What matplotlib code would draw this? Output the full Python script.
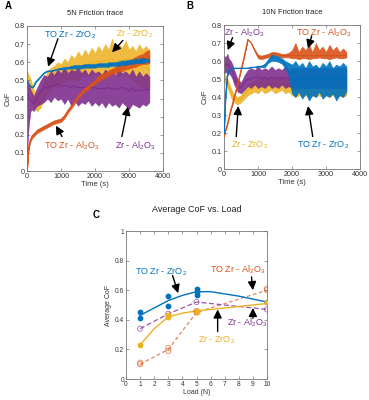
import numpy as np
import matplotlib
matplotlib.use("Agg")
import matplotlib.pyplot as plt

plt.rcParams['font.family'] = ['Liberation Sans', 'DejaVu Sans']
plt.rcParams['mathtext.fontset'] = 'custom'
plt.rcParams['mathtext.rm'] = 'Liberation Sans'
plt.rcParams['mathtext.it'] = 'Liberation Sans:italic'
plt.rcParams['mathtext.bf'] = 'Liberation Sans:bold'

BLUE = '#0072BD'
ORANGE = '#D95319'
YELLOW = '#EDB120'
PURPLE = '#7E2F8E'

# Shared time grid (s) for the friction traces
t_grid = [0, 50, 100, 150, 200, 250, 300, 400, 500, 600, 700, 800, 900, 1000, 1100, 1200, 1300,
          1400, 1500, 1600, 1700, 1800, 1900, 2000, 2100, 2200, 2300, 2400, 2500, 2600, 2700,
          2800, 2900, 3000, 3100, 3200, 3300, 3400, 3500, 3600]

# ---------------- Panel A: 5N friction trace (centre, low and high envelope) ----------------
a_blue_mid = [0.50, 0.48, 0.47, 0.46, 0.47, 0.49, 0.50, 0.52, 0.54, 0.55, 0.55, 0.555, 0.56, 0.565, 0.565, 0.57, 0.57,
              0.575, 0.575, 0.575, 0.58, 0.58, 0.58, 0.58, 0.585, 0.585, 0.585, 0.585, 0.59, 0.59, 0.59,
              0.595, 0.595, 0.60, 0.60, 0.605, 0.605, 0.61, 0.61, 0.61]
a_blue_lo = [0.50, 0.48, 0.47, 0.46, 0.47, 0.49, 0.50, 0.52, 0.54, 0.55, 0.55, 0.555, 0.56, 0.56, 0.56, 0.565, 0.565,
             0.565, 0.565, 0.565, 0.57, 0.57, 0.57, 0.57, 0.575, 0.575, 0.575, 0.575, 0.58, 0.58, 0.58,
             0.585, 0.585, 0.59, 0.59, 0.595, 0.595, 0.595, 0.60, 0.60]
a_blue_hi = [0.50, 0.48, 0.47, 0.46, 0.47, 0.49, 0.50, 0.52, 0.545, 0.555, 0.555, 0.56, 0.565, 0.57, 0.575, 0.575, 0.58,
             0.585, 0.585, 0.585, 0.59, 0.59, 0.59, 0.59, 0.595, 0.595, 0.595, 0.60, 0.60, 0.60, 0.605,
             0.61, 0.61, 0.615, 0.615, 0.62, 0.62, 0.625, 0.62, 0.62]
a_yel_mid = [0.50, 0.49, 0.47, 0.44, 0.40, 0.38, 0.37, 0.39, 0.45, 0.49, 0.51, 0.52, 0.53, 0.53, 0.55, 0.55, 0.57,
             0.56, 0.58, 0.57, 0.59, 0.58, 0.60, 0.59, 0.61, 0.60, 0.61, 0.61, 0.62, 0.60, 0.61,
             0.61, 0.62, 0.60, 0.60, 0.58, 0.59, 0.57, 0.57, 0.56]
a_yel_lo = [0.45, 0.46, 0.44, 0.41, 0.36, 0.34, 0.33, 0.35, 0.40, 0.43, 0.45, 0.47, 0.46, 0.48, 0.49, 0.50, 0.50,
            0.51, 0.50, 0.52, 0.52, 0.53, 0.52, 0.54, 0.53, 0.54, 0.52, 0.55, 0.53, 0.54, 0.52,
            0.55, 0.53, 0.52, 0.50, 0.49, 0.47, 0.46, 0.45, 0.47]
a_yel_hi = [0.55, 0.53, 0.51, 0.48, 0.45, 0.42, 0.40, 0.44, 0.50, 0.55, 0.57, 0.58, 0.60, 0.59, 0.62, 0.60, 0.64,
            0.62, 0.66, 0.63, 0.67, 0.64, 0.68, 0.65, 0.69, 0.66, 0.70, 0.67, 0.73, 0.66, 0.70,
            0.68, 0.72, 0.67, 0.69, 0.66, 0.70, 0.67, 0.69, 0.66]
a_pur_mid = [0.46, 0.40, 0.39, 0.38, 0.37, 0.39, 0.41, 0.44, 0.46, 0.46, 0.47, 0.47, 0.48, 0.47, 0.47, 0.47, 0.46,
             0.47, 0.46, 0.46, 0.46, 0.46, 0.46, 0.46, 0.455, 0.455, 0.455, 0.46, 0.455, 0.45, 0.455,
             0.46, 0.455, 0.44, 0.46, 0.44, 0.45, 0.445, 0.45, 0.45]
a_pur_lo = [0.10, 0.25, 0.33, 0.34, 0.33, 0.35, 0.36, 0.37, 0.38, 0.40, 0.38, 0.41, 0.39, 0.40, 0.37, 0.40, 0.36,
            0.39, 0.36, 0.38, 0.37, 0.39, 0.36, 0.38, 0.36, 0.38, 0.35, 0.38, 0.36, 0.37, 0.35,
            0.38, 0.36, 0.34, 0.37, 0.36, 0.35, 0.37, 0.36, 0.38]
a_pur_hi = [0.50, 0.48, 0.45, 0.43, 0.41, 0.44, 0.46, 0.50, 0.53, 0.52, 0.55, 0.53, 0.56, 0.54, 0.57, 0.54, 0.56,
            0.55, 0.57, 0.54, 0.56, 0.53, 0.56, 0.54, 0.55, 0.53, 0.56, 0.54, 0.55, 0.53, 0.56,
            0.54, 0.55, 0.53, 0.56, 0.52, 0.55, 0.52, 0.54, 0.52]
a_ora_mid = [0.00, 0.13, 0.17, 0.19, 0.20, 0.21, 0.22, 0.23, 0.24, 0.25, 0.26, 0.27, 0.275, 0.28, 0.30, 0.33, 0.355,
             0.38, 0.41, 0.43, 0.45, 0.46, 0.48, 0.49, 0.51, 0.52, 0.53, 0.54, 0.55, 0.555, 0.565,
             0.57, 0.58, 0.585, 0.59, 0.60, 0.61, 0.615, 0.62, 0.63]
a_ora_lo = [0.00, 0.12, 0.16, 0.18, 0.19, 0.20, 0.21, 0.22, 0.23, 0.24, 0.25, 0.26, 0.265, 0.27, 0.29, 0.32, 0.345,
            0.37, 0.40, 0.42, 0.44, 0.45, 0.47, 0.48, 0.495, 0.505, 0.515, 0.525, 0.535, 0.54, 0.55,
            0.55, 0.56, 0.565, 0.57, 0.575, 0.585, 0.59, 0.59, 0.595]
a_ora_hi = [0.00, 0.14, 0.18, 0.20, 0.21, 0.22, 0.23, 0.24, 0.25, 0.26, 0.27, 0.28, 0.285, 0.29, 0.31, 0.34, 0.365,
            0.39, 0.42, 0.44, 0.46, 0.47, 0.49, 0.50, 0.525, 0.535, 0.545, 0.555, 0.565, 0.575, 0.585,
            0.59, 0.60, 0.61, 0.62, 0.63, 0.64, 0.645, 0.66, 0.67]

# ---------------- Panel B: 10N friction trace ----------------
b_blue_mid = [0.20, 0.42, 0.52, 0.55, 0.555, 0.56, 0.56, 0.56, 0.56, 0.56, 0.56, 0.565, 0.565, 0.57, 0.57, 0.575, 0.60,
              0.62, 0.615, 0.61, 0.60, 0.58, 0.55, 0.50, 0.50, 0.50, 0.50, 0.50, 0.50, 0.50, 0.50,
              0.50, 0.50, 0.50, 0.50, 0.50, 0.50, 0.50, 0.50, 0.50]
b_blue_lo = [0.20, 0.42, 0.52, 0.55, 0.555, 0.56, 0.56, 0.56, 0.56, 0.56, 0.56, 0.565, 0.565, 0.57, 0.565, 0.565, 0.59,
             0.60, 0.60, 0.595, 0.585, 0.56, 0.52, 0.42, 0.40, 0.43, 0.39, 0.42, 0.38, 0.41, 0.40,
             0.43, 0.39, 0.41, 0.40, 0.42, 0.38, 0.41, 0.40, 0.43]
b_blue_hi = [0.20, 0.42, 0.52, 0.55, 0.555, 0.56, 0.56, 0.56, 0.56, 0.56, 0.56, 0.565, 0.565, 0.57, 0.575, 0.585, 0.61,
             0.635, 0.63, 0.625, 0.615, 0.60, 0.59, 0.58, 0.60, 0.57, 0.59, 0.56, 0.60, 0.57, 0.58,
             0.56, 0.59, 0.57, 0.60, 0.56, 0.58, 0.57, 0.59, 0.57]
b_ora_mid = [0.18, 0.22, 0.25, 0.29, 0.33, 0.36, 0.40, 0.47, 0.55, 0.63, 0.72, 0.70, 0.66, 0.625, 0.62, 0.625, 0.63,
             0.64, 0.64, 0.635, 0.63, 0.63, 0.63, 0.63, 0.63, 0.63, 0.63, 0.63, 0.63, 0.63, 0.63,
             0.63, 0.63, 0.63, 0.63, 0.63, 0.63, 0.63, 0.63, 0.63]
b_ora_lo = [0.18, 0.22, 0.25, 0.29, 0.33, 0.36, 0.40, 0.47, 0.55, 0.63, 0.72, 0.70, 0.655, 0.615, 0.61, 0.615, 0.62,
            0.63, 0.63, 0.625, 0.62, 0.62, 0.62, 0.615, 0.615, 0.61, 0.615, 0.615, 0.61, 0.615, 0.615,
            0.62, 0.615, 0.615, 0.61, 0.615, 0.62, 0.615, 0.615, 0.62]
b_ora_hi = [0.18, 0.22, 0.25, 0.29, 0.33, 0.36, 0.40, 0.47, 0.55, 0.63, 0.72, 0.70, 0.665, 0.635, 0.63, 0.635, 0.64,
            0.65, 0.65, 0.645, 0.64, 0.64, 0.645, 0.66, 0.70, 0.65, 0.68, 0.66, 0.69, 0.65, 0.70,
            0.66, 0.68, 0.65, 0.69, 0.66, 0.68, 0.65, 0.67, 0.65]
b_pur_mid = [0.58, 0.58, 0.585, 0.57, 0.56, 0.54, 0.51, 0.465, 0.45, 0.48, 0.50, 0.50, 0.51, 0.51, 0.50, 0.51, 0.50,
             0.51, 0.50, 0.51, 0.50, 0.51, 0.50, 0.50, 0.50, 0.50, 0.50, 0.50, 0.50, 0.50, 0.50,
             0.50, 0.50, 0.50, 0.50, 0.50, 0.50, 0.50, 0.50, 0.50]
b_pur_lo = [0.53, 0.54, 0.53, 0.53, 0.52, 0.50, 0.47, 0.43, 0.42, 0.44, 0.46, 0.45, 0.47, 0.45, 0.46, 0.45, 0.47,
            0.45, 0.46, 0.45, 0.47, 0.45, 0.46, 0.45, 0.45, 0.45, 0.45, 0.45, 0.45, 0.45, 0.45,
            0.45, 0.45, 0.45, 0.45, 0.45, 0.45, 0.45, 0.45, 0.45]
b_pur_hi = [0.63, 0.62, 0.64, 0.61, 0.60, 0.58, 0.55, 0.50, 0.48, 0.52, 0.55, 0.56, 0.55, 0.57, 0.55, 0.56, 0.55,
            0.57, 0.55, 0.56, 0.55, 0.57, 0.55, 0.56, 0.56, 0.56, 0.56, 0.56, 0.56, 0.56, 0.56,
            0.56, 0.56, 0.56, 0.56, 0.56, 0.56, 0.56, 0.56, 0.56]
b_yel_mid = [0.50, 0.495, 0.475, 0.455, 0.425, 0.405, 0.39, 0.38, 0.39, 0.415, 0.44, 0.45, 0.46, 0.46, 0.465, 0.47, 0.47,
             0.47, 0.47, 0.47, 0.47, 0.47, 0.47, 0.47, 0.47, 0.47, 0.47, 0.47, 0.47, 0.47, 0.47,
             0.47, 0.47, 0.47, 0.47, 0.47, 0.47, 0.47, 0.47, 0.47]
b_yel_lo = [0.48, 0.47, 0.45, 0.43, 0.40, 0.38, 0.37, 0.36, 0.37, 0.39, 0.41, 0.42, 0.43, 0.42, 0.44, 0.42, 0.43,
            0.44, 0.42, 0.43, 0.44, 0.42, 0.43, 0.41, 0.40, 0.41, 0.40, 0.41, 0.40, 0.41, 0.40,
            0.41, 0.40, 0.41, 0.40, 0.41, 0.40, 0.41, 0.40, 0.41]
b_yel_hi = [0.53, 0.52, 0.50, 0.48, 0.45, 0.43, 0.41, 0.40, 0.41, 0.44, 0.47, 0.48, 0.49, 0.50, 0.49, 0.51, 0.50,
            0.50, 0.51, 0.50, 0.51, 0.50, 0.51, 0.51, 0.51, 0.51, 0.51, 0.51, 0.51, 0.51, 0.51,
            0.51, 0.51, 0.51, 0.51, 0.51, 0.51, 0.51, 0.51, 0.51]

# ---------------- Panel C: average CoF vs load ----------------
c_blue_x = [1, 1, 3, 3, 5, 5, 5, 10]
c_blue_y = [0.45, 0.41, 0.56, 0.49, 0.61, 0.59, 0.57, 0.52]
c_yel_x = [1, 3, 3, 5, 5, 10]
c_yel_y = [0.23, 0.42, 0.43, 0.46, 0.45, 0.52]
c_pur_x = [1, 3, 5, 10]
c_pur_y = [0.34, 0.44, 0.52, 0.47]
c_ora_x = [1, 1, 3, 3, 5, 5, 10, 10]
c_ora_y = [0.11, 0.10, 0.21, 0.19, 0.46, 0.45, 0.61, 0.60]

c_fit_x = [1, 2, 3, 4, 5, 6, 7, 8, 9, 10]
c_blue_fit = [0.43, 0.48, 0.53, 0.565, 0.59, 0.59, 0.575, 0.56, 0.54, 0.52]
c_yel_fit = [0.23, 0.34, 0.42, 0.445, 0.46, 0.47, 0.48, 0.49, 0.50, 0.51]
c_pur_line_x = [1, 3, 5, 10]
c_pur_line = [0.34, 0.44, 0.52, 0.47]
c_ora_line_x = [1, 3, 5, 10]
c_ora_line = [0.10, 0.20, 0.45, 0.60]

W, H = 369, 400
fig = plt.figure(figsize=(W / 100, H / 100), dpi=100)


def ax_at(x0, y0, x1, y1):
    return fig.add_axes([x0 / W, 1 - y1 / H, (x1 - x0) / W, (y1 - y0) / H])


def style(ax, fs=5.2):
    for s in ax.spines.values():
        s.set_color('#777777')
        s.set_linewidth(0.6)
    ax.tick_params(direction='in', length=2, width=0.5, colors='#777777',
                   labelcolor='#333333', labelsize=fs, top=True, right=True, pad=1.5)


def trace(ax, t, mid, lo, hi, color, z, lw=0.9, alpha=0.85):
    ax.fill_between(t, lo, hi, color=color, alpha=alpha, lw=0.4, zorder=z)
    ax.plot(t, mid, color=color, lw=lw, zorder=z + 0.5)


def arrow(ax, text, color, txy, tail, tip, fs=6.5):
    ax.annotate('', xy=tip, xytext=tail,
                arrowprops=dict(arrowstyle='-|>,head_length=0.5,head_width=0.25',
                                color='black', lw=1.0, shrinkA=0, shrinkB=0), zorder=10)
    ax.text(txy[0], txy[1], text, color=color, fontsize=fs, ha='center', va='center', zorder=11)


ZRO2_TO = 'TO Zr - ZrO$_2$'
ZRO2 = 'Zr - ZrO$_2$'
AL_TO = 'TO Zr - Al$_2$O$_3$'
AL = 'Zr - Al$_2$O$_3$'
TICKS_T = [0, 1000, 2000, 3000, 4000]
TICKS_COF = [0, 0.1, 0.2, 0.3, 0.4, 0.5, 0.6, 0.7, 0.8]
LABELS_COF = ['0', '0.1', '0.2', '0.3', '0.4', '0.5', '0.6', '0.7', '0.8']

# Panel A
axA = ax_at(27, 26, 163, 171)
trace(axA, t_grid, a_yel_mid, a_yel_lo, a_yel_hi, YELLOW, 1)
trace(axA, t_grid, a_pur_mid, a_pur_lo, a_pur_hi, PURPLE, 2, alpha=0.9)
trace(axA, t_grid, a_ora_mid, a_ora_lo, a_ora_hi, ORANGE, 3, lw=1.0, alpha=0.9)
trace(axA, t_grid, a_blue_mid, a_blue_lo, a_blue_hi, BLUE, 4, lw=0.8, alpha=0.9)
axA.set_xlim(0, 4000)
axA.set_ylim(0, 0.8)
axA.set_xticks(TICKS_T)
axA.set_yticks(TICKS_COF)
axA.set_yticklabels(LABELS_COF)
style(axA)
axA.set_xlabel('Time (s)', fontsize=5.5, labelpad=1, color='#333333')
axA.set_ylabel('CoF', fontsize=5.5, labelpad=2, color='#333333')
axA.set_title('5N Friction trace', fontsize=5.5, pad=8, color='#222222')
arrow(axA, ZRO2_TO, BLUE, (1270, 0.75), (910, 0.73), (620, 0.575))
arrow(axA, ZRO2, YELLOW, (3180, 0.755), (2820, 0.72), (2500, 0.655))
arrow(axA, AL_TO, ORANGE, (1320, 0.14), (1030, 0.19), (850, 0.25))
arrow(axA, AL, PURPLE, (3200, 0.14), (2790, 0.19), (2970, 0.355))
fig.text(5 / W, 1 - 6 / H, 'A', fontsize=7, fontweight='bold', ha='left', va='center')

# Panel B
axB = ax_at(224, 25, 360, 169)
trace(axB, t_grid, b_yel_mid, b_yel_lo, b_yel_hi, YELLOW, 1)
trace(axB, t_grid, b_pur_mid, b_pur_lo, b_pur_hi, PURPLE, 2, alpha=0.9)
trace(axB, t_grid, b_ora_mid, b_ora_lo, b_ora_hi, ORANGE, 3, lw=0.8, alpha=0.9)
trace(axB, t_grid, b_blue_mid, b_blue_lo, b_blue_hi, BLUE, 4, lw=0.8, alpha=0.9)
axB.set_xlim(0, 4000)
axB.set_ylim(0, 0.8)
axB.set_xticks(TICKS_T)
axB.set_yticks(TICKS_COF)
axB.set_yticklabels(LABELS_COF)
style(axB)
axB.set_xlabel('Time (s)', fontsize=5.5, labelpad=1, color='#333333')
axB.set_ylabel('CoF', fontsize=5.5, labelpad=2, color='#333333')
axB.set_title('10N Friction trace', fontsize=5.5, pad=8, color='#222222')
arrow(axB, AL, PURPLE, (610, 0.755), (250, 0.73), (110, 0.66))
arrow(axB, AL_TO, ORANGE, (2940, 0.755), (2580, 0.74), (2470, 0.67))
arrow(axB, ZRO2, YELLOW, (750, 0.13), (360, 0.18), (420, 0.35))
arrow(axB, ZRO2_TO, BLUE, (2920, 0.13), (2610, 0.18), (2470, 0.35))
fig.text(186 / W, 1 - 6 / H, 'B', fontsize=7, fontweight='bold', ha='left', va='center')

# Panel C
axC = ax_at(126, 231, 267, 379)
axC.plot(c_ora_line_x, c_ora_line, color=ORANGE, lw=0.9, ls=(0, (3, 2)), alpha=0.7, zorder=2)
axC.plot(c_pur_line_x, c_pur_line, color=PURPLE, lw=0.9, ls=(0, (4, 2)), alpha=0.8, zorder=3)
axC.plot(c_fit_x, c_yel_fit, color=YELLOW, lw=1.0, zorder=4)
axC.plot(c_fit_x, c_blue_fit, color=BLUE, lw=1.0, zorder=5)
axC.scatter(c_ora_x, c_ora_y, s=14, facecolors='none', edgecolors=ORANGE, linewidths=0.6, alpha=0.7, zorder=6)
axC.scatter(c_pur_x, c_pur_y, s=14, facecolors='none', edgecolors=PURPLE, linewidths=0.6, alpha=0.7, zorder=6)
axC.scatter(c_blue_x, c_blue_y, s=10, color=BLUE, zorder=7)
axC.scatter(c_yel_x, c_yel_y, s=10, color=YELLOW, zorder=8)
axC.set_xlim(0, 10)
axC.set_ylim(0, 1)
axC.set_xticks(range(0, 11))
axC.set_yticks([0, 0.2, 0.4, 0.6, 0.8, 1])
axC.set_yticklabels(['0', '0.2', '0.4', '0.6', '0.8', '1'])
style(axC, fs=4.8)
axC.set_xlabel('Load (N)', fontsize=5, labelpad=1, color='#333333')
axC.set_ylabel('Average CoF', fontsize=5, labelpad=2, color='#333333')
axC.set_title('Average CoF vs. Load', fontsize=6.5, pad=14, color='#222222')
arrow(axC, ZRO2_TO, BLUE, (2.5, 0.72), (3.3, 0.70), (3.7, 0.58))
arrow(axC, AL_TO, ORANGE, (7.9, 0.74), (8.9, 0.69), (9.0, 0.60))
arrow(axC, AL, PURPLE, (8.6, 0.38), (9.0, 0.41), (9.0, 0.48))
arrow(axC, ZRO2, YELLOW, (6.45, 0.26), (6.5, 0.32), (6.5, 0.47))
fig.text(96 / W, 1 - 215 / H, 'C', fontsize=7, fontweight='bold', ha='center', va='center')

fig.savefig('out.png', dpi=100)
